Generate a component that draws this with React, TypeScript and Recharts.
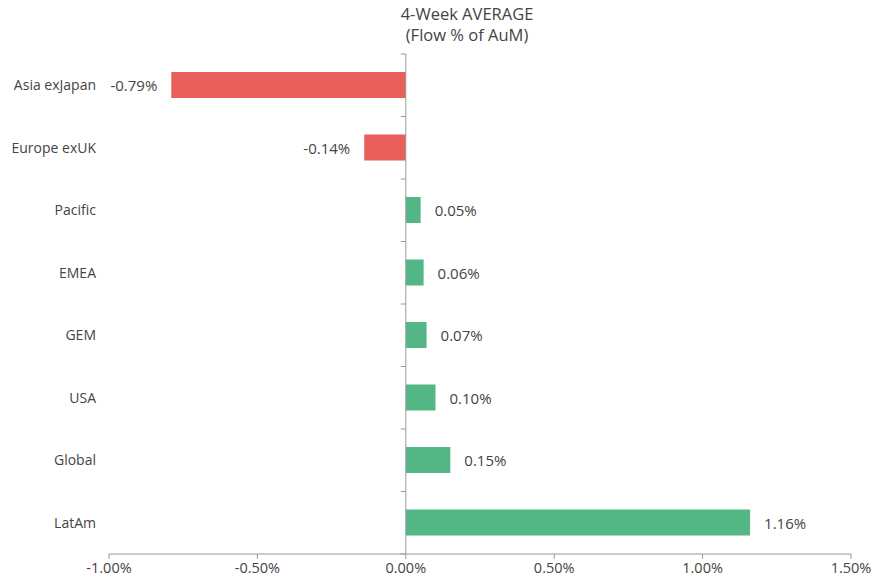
import React from 'react';
import { BarChart, Bar, XAxis, YAxis, ReferenceLine, LabelList, Cell } from 'recharts';

const regions = ['Asia exJapan', 'Europe exUK', 'Pacific', 'EMEA', 'GEM', 'USA', 'Global', 'LatAm'];
const flows = [-0.79, -0.14, 0.05, 0.06, 0.07, 0.1, 0.15, 1.16];
const xTicks = [-1, -0.5, 0, 0.5, 1, 1.5];

const data = regions.map((region, i) => ({ region, flow: flows[i] }));

const RED = '#E85E5A';
const GREEN = '#52B785';
const TEXT = '#444444';
const AXIS = '#9a9a9a';
const FONT = '"Open Sans", sans-serif';

const fmt = (v: number) => `${v.toFixed(2)}%`;

// vertical axis at zero, with small ticks between categories
const ZeroAxis = (props: any) => {
  const { x1, y1, x2, y2 } = props;
  const top = Math.min(y1, y2);
  const bottom = Math.max(y1, y2);
  const step = (bottom - top) / regions.length;
  return (
    <g>
      <line x1={x1} y1={top} x2={x2} y2={bottom} stroke={AXIS} strokeWidth={1} />
      {regions.concat(['']).map((_, i) => (
        <line key={i} x1={x1 - 5} x2={x1} y1={top + i * step} y2={top + i * step} stroke={AXIS} strokeWidth={1} />
      ))}
    </g>
  );
};

const ValueLabel = (props: any) => {
  const { x, y, width, height, value } = props;
  const left = Math.min(x, x + width);
  const right = Math.max(x, x + width);
  const neg = value < 0;
  return (
    <text
      x={neg ? left - 14 : right + 14}
      y={y + height / 2}
      textAnchor={neg ? 'end' : 'start'}
      dominantBaseline="central"
      fill={TEXT}
      fontSize={15}
      fontFamily={FONT}
    >
      {fmt(value)}
    </text>
  );
};

const App = () => {
  return (
    <div style={{ position: 'absolute', left: 0, top: 0, width: 876, height: 583, background: '#fff' }}>
      <div
        style={{
          position: 'absolute',
          left: 367,
          top: 3,
          width: 200,
          textAlign: 'center',
          fontFamily: FONT,
          fontSize: 16.5,
          lineHeight: '21px',
          color: TEXT,
        }}
      >
        4-Week AVERAGE
        <br />
        (Flow % of AuM)
      </div>
      <BarChart
        width={876}
        height={583}
        data={data}
        layout="vertical"
        margin={{ top: 54, right: 25, bottom: 0, left: 0 }}
      >
        <XAxis
          type="number"
          domain={[-1, 1.5]}
          ticks={xTicks}
          tickFormatter={fmt}
          stroke={AXIS}
          tickSize={5}
          tickMargin={4}
          height={29}
          tick={{ fill: TEXT, fontSize: 14.5, fontFamily: FONT }}
        />
        <YAxis
          type="category"
          dataKey="region"
          width={109}
          axisLine={false}
          tickLine={false}
          tickMargin={7}
          tick={{ fill: TEXT, fontSize: 14, fontFamily: FONT }}
        />
        <Bar dataKey="flow" barSize={26} isAnimationActive={false}>
          {data.map((d, i) => (
            <Cell key={i} fill={d.flow < 0 ? RED : GREEN} />
          ))}
          <LabelList dataKey="flow" content={ValueLabel} />
        </Bar>
        <ReferenceLine x={0} shape={ZeroAxis} />
      </BarChart>
    </div>
  );
};

export default App;
